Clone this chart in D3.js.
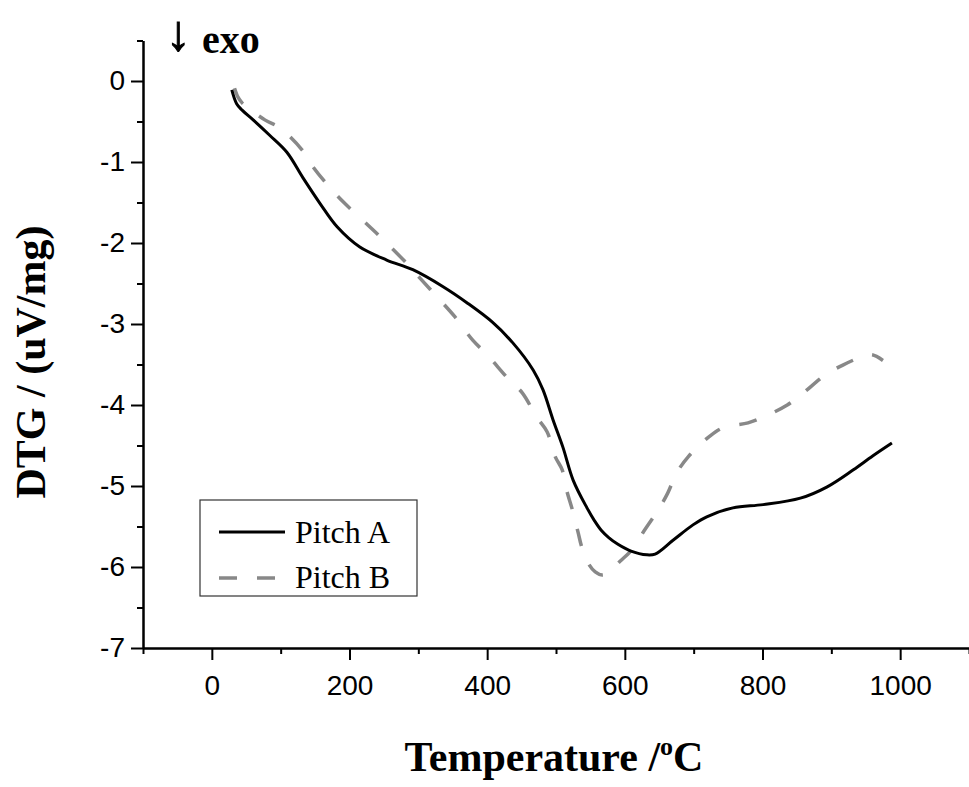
<!DOCTYPE html>
<html>
<head>
<meta charset="utf-8">
<script src="https://cdn.jsdelivr.net/npm/d3@7"></script>
<style>
  body { margin: 0; background: #fff; }
  .tick text { font-family: "Liberation Sans", Arial, sans-serif; font-size: 28px; fill: #000; }
  .serif { font-family: "Liberation Serif", "Times New Roman", serif; }
</style>
</head>
<body>
<div id="chart"></div>
<script>
// Pitch A (solid black)
const tempA = [29, 36, 44, 60, 84, 109, 132, 157, 182, 215, 254, 292, 336, 371, 408, 437, 467, 481, 496, 510, 525, 545, 556, 566, 577, 590, 608, 632, 644, 670, 699, 719, 757, 801, 855, 894, 932, 960, 988];
const dtgA = [-0.11, -0.28, -0.36, -0.48, -0.67, -0.88, -1.19, -1.51, -1.80, -2.05, -2.21, -2.33, -2.54, -2.74, -2.98, -3.23, -3.57, -3.81, -4.19, -4.52, -4.93, -5.27, -5.43, -5.55, -5.64, -5.72, -5.80, -5.85, -5.84, -5.67, -5.48, -5.38, -5.27, -5.23, -5.15, -5.01, -4.80, -4.63, -4.47];

// Pitch B (grey dashed)
const tempB = [33, 38, 44, 77, 99, 131, 147, 172, 193, 227, 249, 283, 302, 331, 353, 379, 400, 430, 451, 472, 487, 499, 509, 516, 523, 532, 538, 548, 557, 568, 578, 593, 610, 626, 648, 661, 676, 692, 724, 743, 779, 801, 836, 858, 891, 916, 946, 959, 975];
const dtgB = [-0.09, -0.20, -0.27, -0.48, -0.58, -0.85, -1.06, -1.32, -1.51, -1.78, -1.96, -2.25, -2.43, -2.70, -2.91, -3.20, -3.38, -3.67, -3.85, -4.15, -4.33, -4.64, -4.80, -5.07, -5.27, -5.57, -5.77, -5.97, -6.06, -6.10, -6.05, -5.93, -5.79, -5.58, -5.30, -5.11, -4.83, -4.64, -4.38, -4.28, -4.22, -4.15, -4.00, -3.86, -3.63, -3.51, -3.40, -3.38, -3.45];

const xTicks = [0, 200, 400, 600, 800, 1000];
const xMinor = [-100, 100, 300, 500, 700, 900, 1100];
const yTicks = [0, -1, -2, -3, -4, -5, -6, -7];
const yMinor = [0.5, -0.5, -1.5, -2.5, -3.5, -4.5, -5.5, -6.5];

const seriesNames = ["Pitch A", "Pitch B"];

const W = 969, H = 787;
const margin = { top: 40.5, right: 0, bottom: 139, left: 143 };
const height = H - margin.top - margin.bottom;

const svg = d3.select("#chart")
  .append("svg")
  .attr("width", W)
  .attr("height", H);

const g = svg.append("g")
  .attr("transform", "translate(" + margin.left + "," + margin.top + ")");

const X = d3.scaleLinear().domain([-100, 1100]).range([0, 826]);
const Y = d3.scaleLinear().domain([-7, 0.5]).range([height, 0]);

const blackAxis = (a) => a.selectAll("line, path").attr("stroke", "#000").attr("stroke-width", 2);

// axes: minor ticks first, then labelled major ticks
g.append("g")
  .attr("transform", `translate(0, ${height})`)
  .call(d3.axisBottom(X).tickValues(xMinor).tickSize(6).tickFormat("").tickSizeOuter(0))
  .call(blackAxis);
g.append("g")
  .attr("transform", `translate(0, ${height})`)
  .call(d3.axisBottom(X).tickValues(xTicks).tickSize(12).tickPadding(15).tickFormat(d3.format("d")).tickSizeOuter(0))
  .call(blackAxis);

g.append("g")
  .call(d3.axisLeft(Y).tickValues(yMinor).tickSize(6).tickFormat("").tickSizeOuter(0))
  .call(blackAxis);
g.append("g")
  .call(d3.axisLeft(Y).tickValues(yTicks).tickSize(12).tickPadding(6).tickFormat(d3.format("d")).tickSizeOuter(0))
  .call(blackAxis)
  .call((a) => a.selectAll("text").text((d) => String(d)));

// curves
const line = d3.line()
  .curve(d3.curveCatmullRom)
  .x((d) => X(d[0]))
  .y((d) => Y(d[1]));

const dataA = tempA.map((t, i) => [t, dtgA[i]]);
const dataB = tempB.map((t, i) => [t, dtgB[i]]);

g.append("path")
  .datum(dataB)
  .attr("fill", "none")
  .attr("stroke", "#888")
  .attr("stroke-width", 3.5)
  .attr("stroke-dasharray", "18,20")
  .attr("d", line);

g.append("path")
  .datum(dataA)
  .attr("fill", "none")
  .attr("stroke", "#000")
  .attr("stroke-width", 3)
  .attr("d", line);

// legend
const legend = svg.append("g").attr("transform", "translate(200,500)");
legend.append("rect")
  .attr("width", 217)
  .attr("height", 96)
  .attr("fill", "#fff")
  .attr("stroke", "#333")
  .attr("stroke-width", 1.2);
legend.append("line")
  .attr("x1", 19).attr("x2", 85).attr("y1", 32).attr("y2", 32)
  .attr("stroke", "#000").attr("stroke-width", 3);
legend.append("line")
  .attr("x1", 19).attr("x2", 75).attr("y1", 78).attr("y2", 78)
  .attr("stroke", "#888").attr("stroke-width", 3.5)
  .attr("stroke-dasharray", "18,20");
legend.selectAll("text.lab")
  .data(seriesNames)
  .join("text")
  .attr("class", "lab serif")
  .attr("x", 95)
  .attr("y", (d, i) => 43 + i * 45)
  .style("font-size", "32px")
  .text((d) => d);

// titles
svg.append("text")
  .attr("class", "serif")
  .attr("transform", "translate(45,362) rotate(-90)")
  .attr("text-anchor", "middle")
  .style("font-size", "42px")
  .style("font-weight", "bold")
  .text("DTG / (uV/mg)");

const xt = svg.append("text")
  .attr("class", "serif")
  .attr("x", 554)
  .attr("y", 771)
  .attr("text-anchor", "middle")
  .style("font-size", "42px")
  .style("font-weight", "bold");
xt.append("tspan").text("Temperature /");
xt.append("tspan").attr("dy", -16).style("font-size", "26px").text("o");
xt.append("tspan").attr("dy", 16).text("C");

svg.append("text")
  .attr("class", "serif")
  .attr("x", 166)
  .attr("y", 50)
  .style("font-size", "50px")
  .style("stroke", "#000")
  .style("stroke-width", 1)
  .text("\u2193");
svg.append("text")
  .attr("class", "serif")
  .attr("x", 202)
  .attr("y", 53)
  .style("font-size", "40px")
  .style("font-weight", "bold")
  .text("exo");
</script>
</body>
</html>
